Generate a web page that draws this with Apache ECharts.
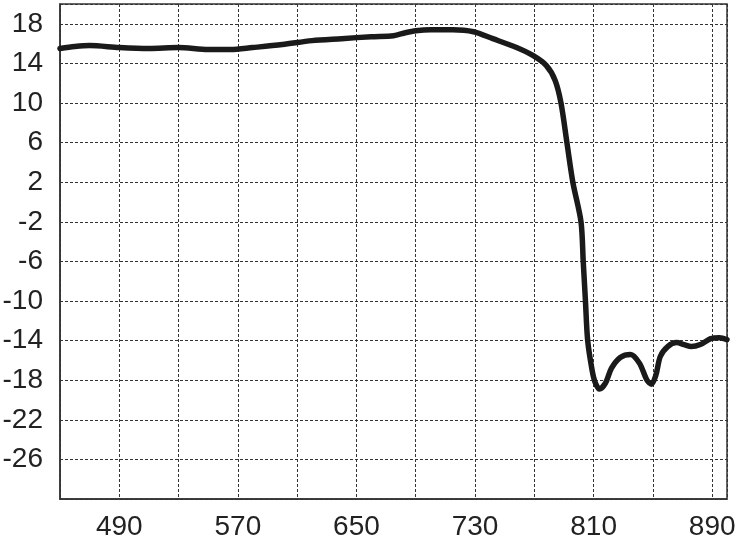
<!DOCTYPE html>
<html>
<head>
<meta charset="utf-8">
<script src="https://cdn.jsdelivr.net/npm/echarts@6/dist/echarts.min.js"></script>
<style>html,body{margin:0;padding:0;background:#fff}#c{width:736px;height:539px}</style>
</head>
<body>
<div id="c"></div>
<script>
const xValues = [450,460,470,490,510,530,550,565,580,600,620,640,660,675,683,690,700,715,729,742,758,769,778,784,788,792,796,801.5,803,804.5,806,809,811,814,818,822,828,835,841,846,849,852,855,860,866,871,876,882,889,895,900];
const yValues = [15.5,15.7,15.8,15.6,15.5,15.6,15.4,15.4,15.6,15.9,16.3,16.5,16.7,16.8,17.1,17.3,17.4,17.4,17.2,16.5,15.6,14.8,13.8,12.3,10,6,2,-2,-6,-10,-14,-17,-18.2,-18.9,-18.3,-16.8,-15.7,-15.4,-16.3,-18.0,-18.4,-17.5,-15.6,-14.6,-14.2,-14.4,-14.6,-14.4,-13.8,-13.7,-13.9];
const xLabels = [490,570,650,730,810,890];
const yLabels = [18,14,10,6,2,-2,-6,-10,-14,-18,-22,-26];

const chart = echarts.init(document.getElementById('c'));
const data = xValues.map((x,i)=>[x,yValues[i]]);
const font = 'Liberation Sans, Arial, sans-serif';
chart.setOption({
  animation:false,
  grid:{left:60,right:9,top:4,bottom:40,show:true,borderColor:'#333',borderWidth:1.5,containLabel:false,outerBoundsMode:'none'},
  xAxis:{type:'value',min:450,max:900,interval:40,
    axisLine:{show:true,onZero:false,lineStyle:{color:'#333',width:1.5}},
    axisTick:{show:false},
    splitLine:{show:true,lineStyle:{color:'#333',width:1,type:[3,2]}},
    axisLabel:{margin:14,fontSize:28,color:'#222',fontFamily:font,
      showMinLabel:true,showMaxLabel:true,
      formatter:v=>xLabels.includes(v)?String(v):''}},
  yAxis:{type:'value',min:-30,max:20,interval:4,
    axisLine:{show:true,onZero:false,lineStyle:{color:'#333',width:1.5}},
    axisTick:{show:false},
    splitLine:{show:true,lineStyle:{color:'#333',width:1,type:[3,2]}},
    axisLabel:{margin:17,fontSize:28,color:'#222',fontFamily:font,
      formatter:v=>yLabels.includes(v)?String(v):''}},
  series:[{type:'line',data:data,smooth:0.3,showSymbol:false,
    lineStyle:{color:'#1a1a1a',width:5.5,cap:'round',join:'round'}}]
});
</script>
</body>
</html>
